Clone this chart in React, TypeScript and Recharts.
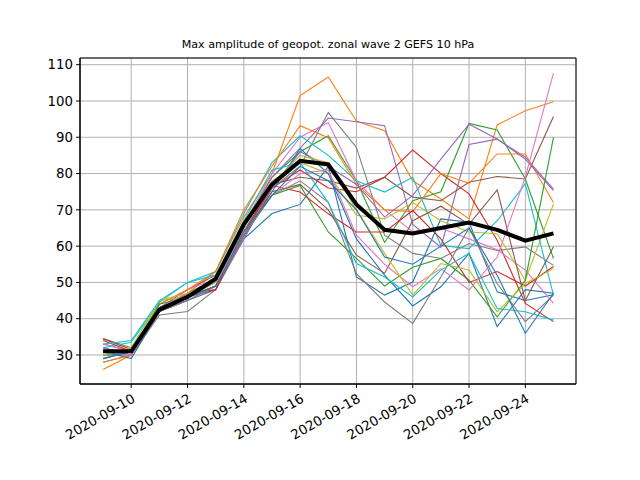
import { LineChart, Line, XAxis, YAxis, CartesianGrid, ReferenceArea } from "recharts";

// forecast days, 2020-09-09 .. 2020-09-25
const dates = [
  "2020-09-09", "2020-09-10", "2020-09-11", "2020-09-12", "2020-09-13", "2020-09-14",
  "2020-09-15", "2020-09-16", "2020-09-17", "2020-09-18", "2020-09-19", "2020-09-20",
  "2020-09-21", "2020-09-22", "2020-09-23", "2020-09-24", "2020-09-25",
];

const tickDates = [
  "2020-09-10", "2020-09-12", "2020-09-14", "2020-09-16",
  "2020-09-18", "2020-09-20", "2020-09-22", "2020-09-24",
];
const yTicks = [30, 40, 50, 60, 70, 80, 90, 100, 110];

// ensemble members (matplotlib colour cycle order)
const m00 = [30, 30, 42, 46, 49, 62, 69, 71.5, 82, 51.5, 46.5, 50.1, 67.5, 66.6, 47.4, 45, 46.6];
const m01 = [26, 30, 43, 47, 53, 68, 80, 101.5, 106.6, 94.5, 91.8, 78, 73, 67.5, 93.4, 97.3, 99.8];
const m02 = [34.5, 32, 43, 47, 51, 66, 79, 86, 90.4, 78, 61, 72.5, 75, 93.8, 92, 78.5, 56.6];
const m03 = [34.5, 31.5, 42, 47, 48, 64, 76, 81, 76, 75, 79, 86.5, 80, 74.4, 61.6, 44.2, 39.2];
const m04 = [33, 31, 43, 46, 50, 65, 79, 87, 95.3, 94.3, 93.2, 66, 59.7, 88, 89.5, 84.5, 75.7];
const m05 = [32, 30, 43, 48, 52, 64, 77, 79, 78, 76, 79, 73.5, 72.5, 77.6, 79.2, 78.5, 95.7];
const m06 = [33, 31, 44, 48, 51, 66, 80, 90, 94.1, 78, 70, 64, 65, 62, 59, 53.4, 44.2];
const m07 = [28, 30, 41, 42, 48, 62, 76, 82, 96.8, 87.2, 63, 58, 56.6, 60.7, 58.8, 59.8, 54.7];
const m08 = [29, 31, 45, 46, 50, 66, 78, 83, 80, 68.5, 67.5, 72, 67, 63.9, 63.4, 50.6, 71.6];
const m09 = [32, 33.5, 44.5, 50, 53, 69, 83, 90.4, 85, 78, 74.9, 79, 60.2, 59.3, 67, 77.2, 46.5];
const m10 = [31, 29, 42, 45, 48, 63, 75, 86.9, 80, 62, 52, 43.5, 48.8, 58, 37.8, 48, 47];
const m11 = [28, 30, 44, 48, 53, 70, 82, 93.2, 89.9, 77, 70, 69.5, 80, 77.3, 85.4, 85.4, 72];
const m12 = [30, 31, 44, 46, 49, 63, 74, 76.7, 63.9, 56.6, 49, 54.2, 56.6, 50.6, 40.5, 50.6, 90];
const m13 = [34, 31, 42, 46, 48, 63, 76.7, 74.9, 68.9, 63.9, 63.9, 69.8, 62, 50, 53, 49, 54.4];
const m14 = [32, 30, 42, 45, 49, 62, 76, 86, 82, 77, 68, 74, 84, 93.6, 89.5, 84, 75.3];
const m15 = [31, 30, 42, 46, 49, 63, 75, 77, 70, 57.5, 52.5, 67, 71, 66, 75.5, 45, 59.8];
const m16 = [31, 30, 43, 47, 50, 64, 74, 80, 81, 63, 55, 48.8, 53.8, 47.9, 57, 79, 107.7];
const m17 = [29, 31, 42, 45, 49, 63, 74, 78, 72.1, 52.4, 44.6, 38.7, 51.5, 65, 49.7, 39.2, 46.5];
const m18 = [30, 32, 45, 47, 50, 65, 77, 85, 83, 70, 58, 46.5, 55.2, 53.4, 41.9, 49.7, 53.8];
const m19 = [33, 34, 45, 50, 52, 67, 81, 83, 72, 55.2, 51.5, 46, 53.4, 58, 42.8, 41.9, 39.6];
const m20 = [29, 31, 43, 46, 49, 64, 74, 82, 78, 70, 57, 55, 60, 65, 52, 36, 47];

const ensMean = [31, 31, 42.5, 46, 51, 66, 77, 83.5, 82.5, 71.5, 64.5, 63.5, 65, 66.5, 64.5, 61.5, 63.5];

const members = [m00, m01, m02, m03, m04, m05, m06, m07, m08, m09, m10, m11, m12, m13, m14, m15, m16, m17, m18, m19, m20];

const palette = [
  "#1f77b4", "#ff7f0e", "#2ca02c", "#d62728", "#9467bd",
  "#8c564b", "#e377c2", "#7f7f7f", "#bcbd22", "#17becf",
];

const DAY = 86400000;
const base = Date.parse("2020-09-10");
const toDay = (s: string) => Math.round((Date.parse(s) - base) / DAY);

const rows = dates.map((d, i) => {
  const row: Record<string, number> = { t: toDay(d), mean: ensMean[i] };
  members.forEach((m, k) => {
    row["m" + k] = m[i];
  });
  return row;
});

const dayLabel = (v: number) => {
  const d = new Date(base + v * DAY);
  return d.toISOString().slice(0, 10);
};

const font = "DejaVu Sans, sans-serif";

function DateTick(props: any) {
  const { x, y, payload } = props;
  return (
    <g transform={`translate(${x},${y + 3})`}>
      <text
        textAnchor="end"
        dominantBaseline="hanging"
        transform="rotate(-30)"
        fontSize={13.3}
        fontFamily={font}
        fill="#000"
      >
        {dayLabel(payload.value)}
      </text>
    </g>
  );
}

export default function App() {
  return (
    <div style={{ position: "absolute", left: 0, top: 0, width: 640, height: 480, background: "#fff" }}>
      <div
        style={{
          position: "absolute",
          left: 80,
          width: 496,
          top: 38,
          textAlign: "center",
          fontFamily: font,
          fontSize: 11.1,
          color: "#000",
        }}
      >
        Max amplitude of geopot. zonal wave 2 GEFS 10 hPa
      </div>
      <LineChart width={640} height={480} data={rows} margin={{ top: 58, right: 64, bottom: 0, left: 0 }}>
        <CartesianGrid stroke="#b0b0b0" strokeWidth={1} />
        <XAxis
          dataKey="t"
          type="number"
          domain={[-1.82, 15.8]}
          ticks={tickDates.map(toDay)}
          allowDataOverflow
          height={96}
          tickSize={4}
          tickLine={{ stroke: "#000" }}
          axisLine={{ stroke: "#000" }}
          tick={<DateTick />}
        />
        <YAxis
          type="number"
          domain={[22, 111.85]}
          ticks={yTicks}
          allowDataOverflow
          width={80}
          tickSize={4}
          tickMargin={3}
          tickLine={{ stroke: "#000" }}
          axisLine={{ stroke: "#000" }}
          tick={{ fontSize: 13.3, fontFamily: font, fill: "#000" }}
        />
        {members.map((_, k) => (
          <Line
            key={k}
            dataKey={"m" + k}
            stroke={palette[k % palette.length]}
            strokeWidth={1.1}
            dot={false}
            isAnimationActive={false}
            type="linear"
          />
        ))}
        <Line dataKey="mean" stroke="#000" strokeWidth={4} dot={false} isAnimationActive={false} type="linear" />
        <ReferenceArea x1={-1.82} x2={15.8} y1={22} y2={111.85} fill="none" fillOpacity={0} stroke="#000" strokeWidth={1} ifOverflow="visible" />
      </LineChart>
    </div>
  );
}
